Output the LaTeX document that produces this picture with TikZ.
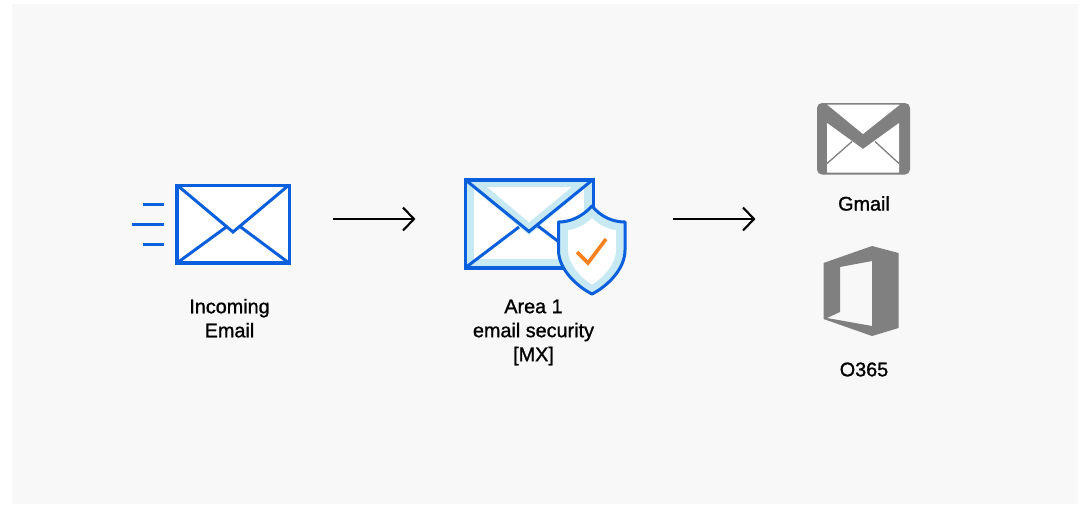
\documentclass[tikz,border=0pt]{standalone}
\usepackage{fontspec}
\setmainfont{Liberation Sans}[FakeBold=1.1]
\definecolor{panel}{HTML}{F8F8F8}
\definecolor{cfblue}{HTML}{0A5FDC}
\definecolor{lightblue}{HTML}{C6E9F3}
\definecolor{cforange}{HTML}{F6821F}
\definecolor{icongrey}{HTML}{808080}
\tikzset{
  label/.style={font=\fontsize{19.8}{24}\selectfont, text=black, align=center, inner sep=0pt, anchor=center},
  env/.style={draw=cfblue, line width=3.4pt, line join=miter},
  thin env/.style={draw=cfblue, line width=3pt, line cap=butt},
  speed/.style={draw=cfblue, line width=3pt},
  arrowline/.style={draw=black, line width=2.1pt, line join=miter}
}
\begin{document}
\begin{tikzpicture}[x=1pt,y=-1pt]
\useasboundingbox (0,0) rectangle (1081,504);
\fill[white] (0,0) rectangle (1081,504);
\fill[panel] (12,4) rectangle (1078,504);

% incoming envelope
\draw[speed] (143,204) -- (164,204);
\draw[speed] (132,224) -- (164,224);
\draw[speed] (143,244) -- (164,244);
\fill[white] (177,185.5) rectangle (289.5,263);
\draw[thin env] (177,263) -- (227,226.5);
\draw[thin env] (289,263) -- (240,226.5);
\draw[thin env, line join=miter] (177,185) -- (233,232) -- (289,185);
\draw[env] (177,185.5) rectangle (289.5,263);
\node[label] (incoming) at (229.5,318.2) {Incoming\\Email};

% protected envelope
\fill[lightblue] (465,179.5) rectangle (593,268);
\fill[white] (474,187) rectangle (584,258.5);
\fill[lightblue] (474,187) -- (487,187) -- (529,222.5) -- (572,187) -- (584,187) -- (584,189) -- (529,235) -- (474,189) -- cycle;
\draw[thin env] (465,268) -- (519,227);
\draw[thin env] (593,268) -- (538,226);
\draw[thin env, line join=miter] (465,179.5) -- (529,231.5) -- (593,179.5);
\draw[env] (465.5,180) rectangle (593.5,268);
% shield
\draw[draw=cfblue, line width=3pt, fill=lightblue, line join=round]
  (592,206) .. controls (582,217) and (570,222) .. (558.5,222)
  -- (558.5,250) .. controls (558.5,270) and (578,287) .. (592,294)
  .. controls (606,287) and (625,270) .. (625,250)
  -- (625,222) .. controls (613,222) and (601,217) .. (592,206) -- cycle;
\fill[white]
  (592,218) .. controls (585,225) and (577,229) .. (568,230)
  -- (568,250) .. controls (568,264) and (581,278) .. (592,284.5)
  .. controls (603,278) and (616,264) .. (616,250)
  -- (616,230) .. controls (607,229) and (599,225) .. (592,218) -- cycle;
\draw[cforange, line width=3.6pt, line join=miter] (577,252) -- (588,263) -- (606,239);
\node[label] (area) at (533.5,332.4) {Area 1\\email security\\{[MX]}};

% arrows
\coordinate (a1s) at (333,219);
\coordinate (a1e) at (414,219);
\coordinate (a1u) at (403,207.5);
\coordinate (a1d) at (403,230.5);
\draw[arrowline] (a1s) -- (a1e);
\draw[arrowline] (a1u) -- (a1e) -- (a1d);
\coordinate (a2s) at (673,219);
\coordinate (a2e) at (754,219);
\coordinate (a2u) at (743,207.5);
\coordinate (a2d) at (743,230.5);
\draw[arrowline] (a2s) -- (a2e);
\draw[arrowline] (a2u) -- (a2e) -- (a2d);

% gmail
\fill[icongrey, rounded corners=5pt] (817,103) rectangle (910,174.5);
\fill[white] (827,123) -- (863,149) -- (899,123) -- (899,172.5) -- (827,172.5) -- cycle;
\fill[white] (827,104.5) -- (863,134) -- (900,104.5) -- cycle;
\draw[icongrey, line width=1.3pt] (827,163.5) -- (852,141.5);
\draw[icongrey, line width=1.3pt] (899,163.5) -- (875,141.5);
\node[label] (gmail) at (864,203.5) {Gmail};

% office
\fill[icongrey, even odd rule]
  (872,246) -- (898.5,253) -- (898.5,328) -- (872,336) -- (823.5,319) -- (823.5,263) -- cycle
  (840,267) -- (872,261) -- (872,326) -- (827,318) -- (840,312) -- cycle;
\node[label] (o365) at (864,369.5) {O365};
\end{tikzpicture}
\end{document}
